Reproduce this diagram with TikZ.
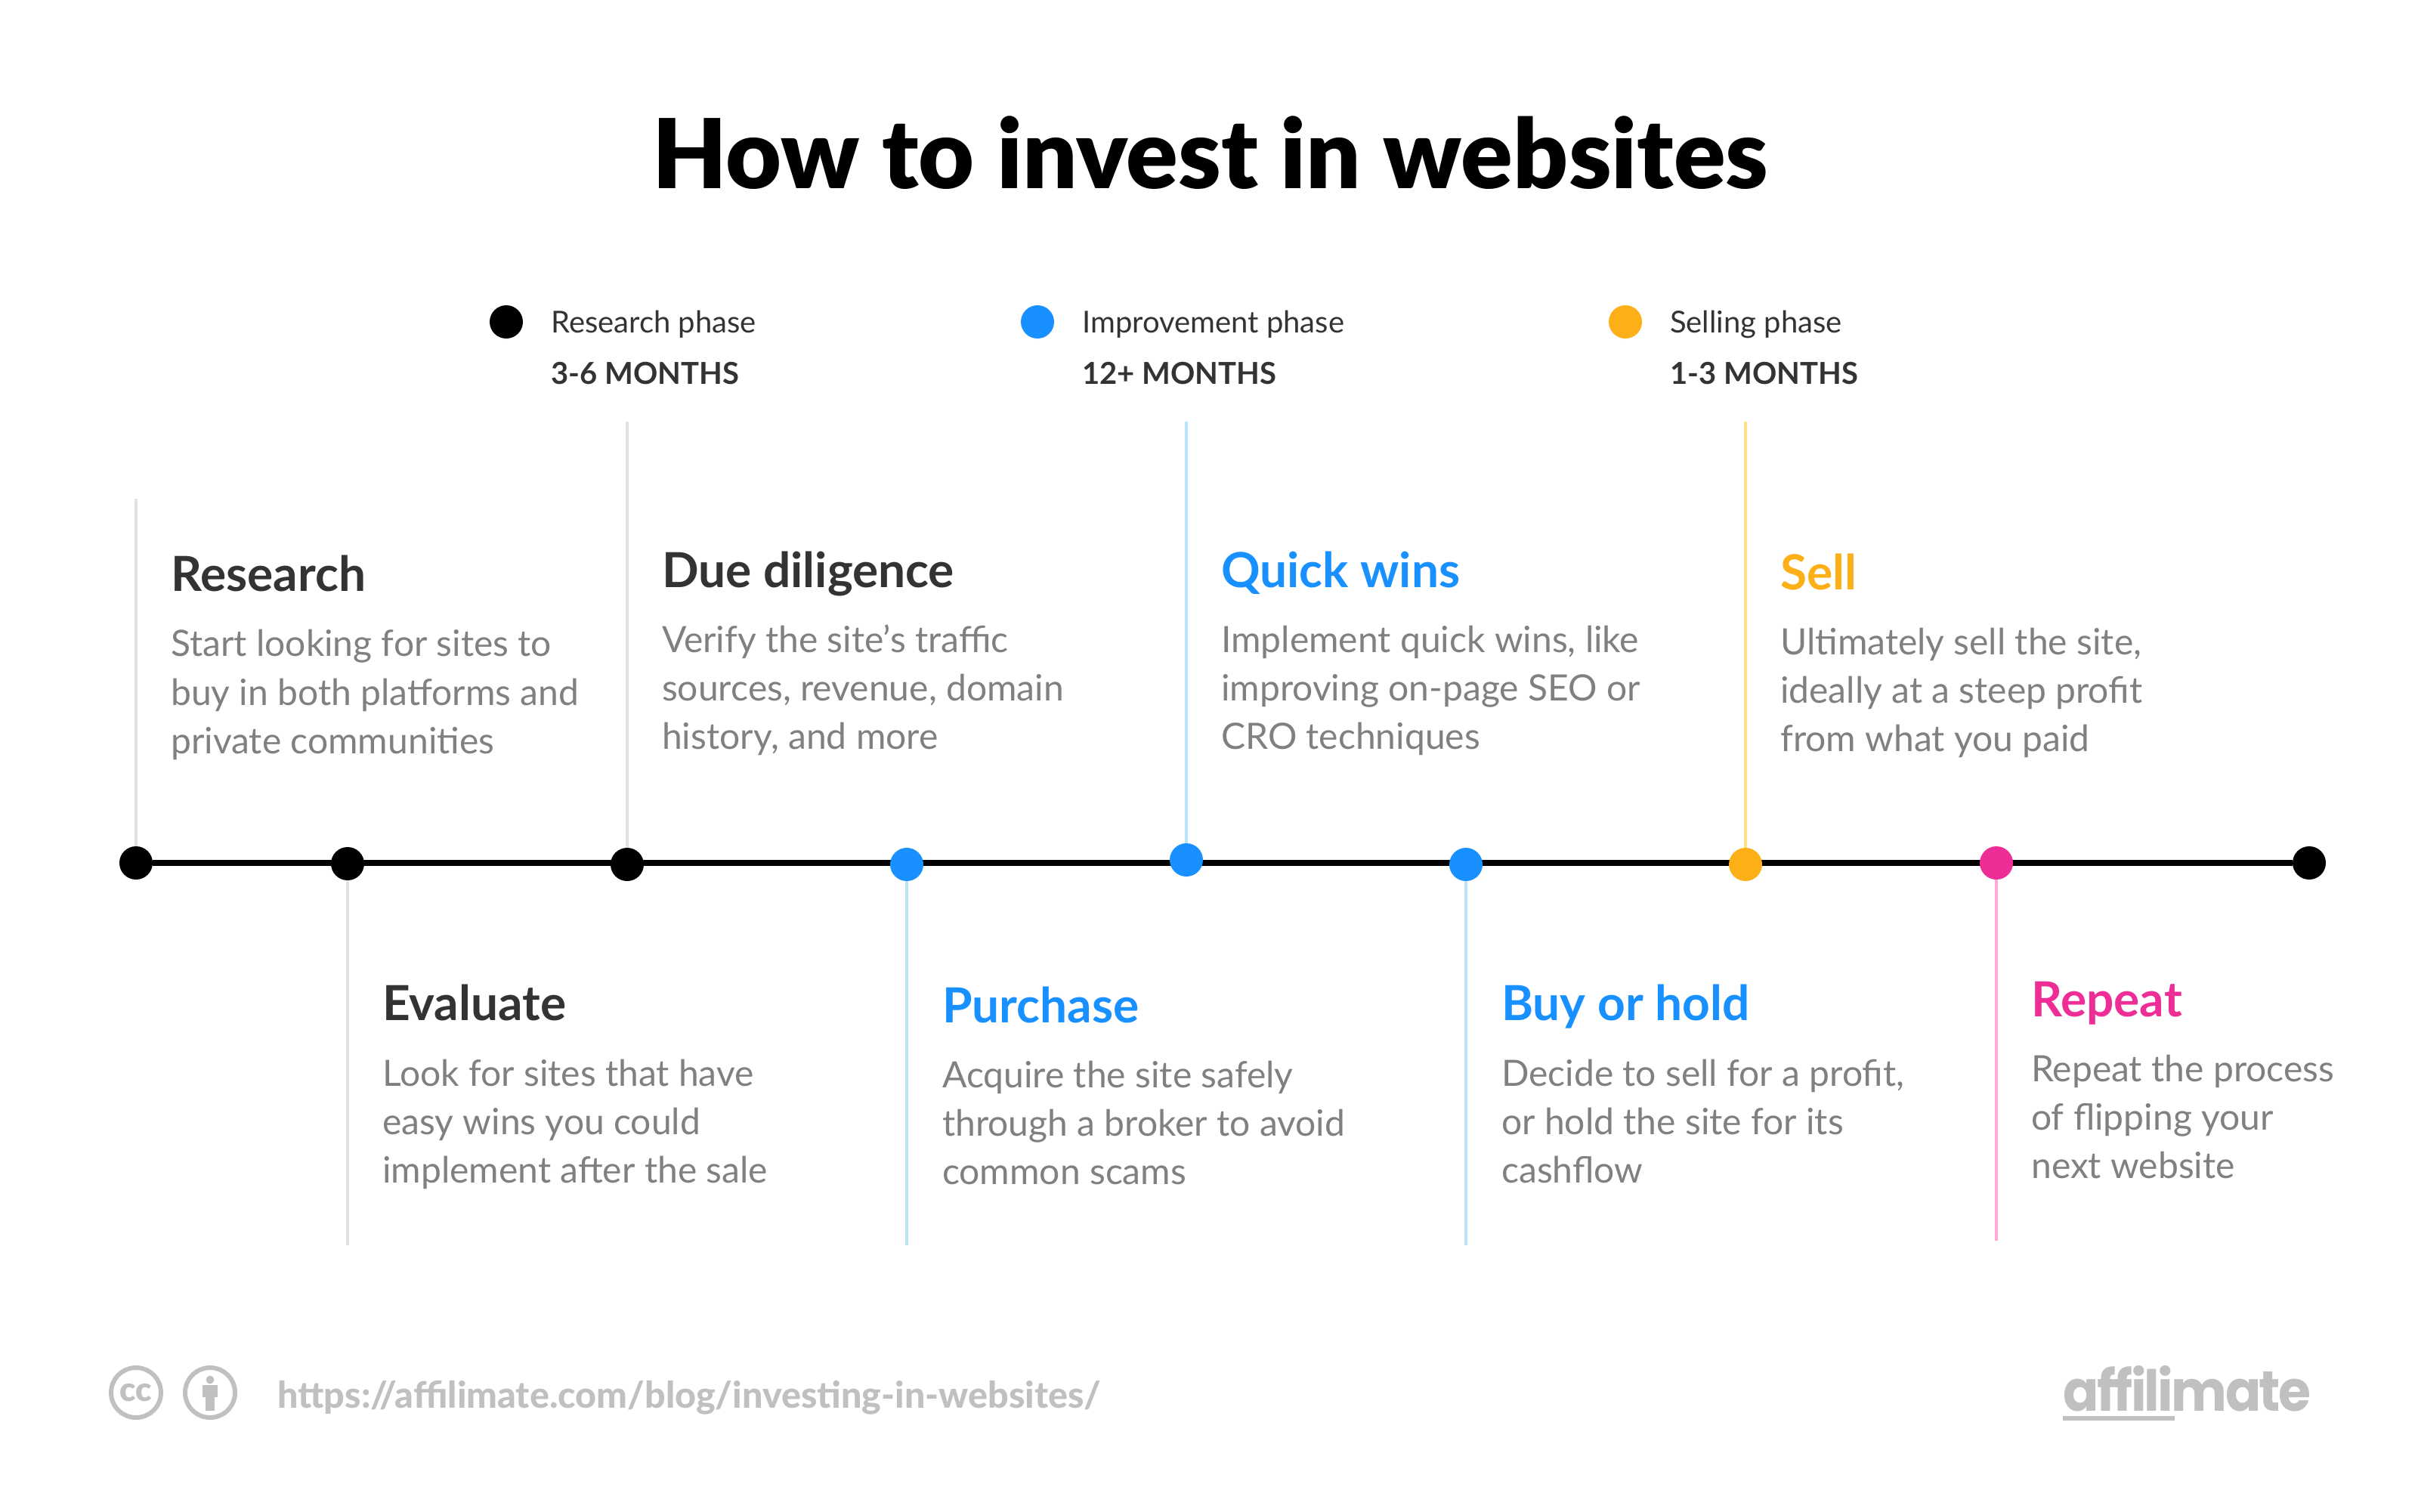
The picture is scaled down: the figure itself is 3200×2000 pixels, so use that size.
\documentclass[tikz,border=0pt]{standalone}
\usepackage{fontspec}
\setmainfont{Lato}
\newfontfamily\blackfont{Lato Black}
\newfontfamily\heavyfont{Lato Heavy}
\newfontfamily\logofont{Poppins}[FakeStretch=0.93, LetterSpace=-3.5]
\usetikzlibrary{backgrounds}

\definecolor{inkblack}{HTML}{333333}
\definecolor{bodygrey}{HTML}{808080}
\definecolor{footgrey}{HTML}{C0C0C0}
\definecolor{stemgrey}{HTML}{E2E2E2}
\definecolor{phaseblue}{HTML}{1890FF}
\definecolor{stemblue}{HTML}{BBE4FB}
\definecolor{phaseorange}{HTML}{FCAF17}
\definecolor{stemorange}{HTML}{FFE08A}
\definecolor{phasepink}{HTML}{EE2E96}
\definecolor{stempink}{HTML}{FDA9D4}

\tikzset{
  dot/.style={circle, minimum size=44pt, inner sep=0pt, fill=#1},
  stem/.style={line width=4pt, #1},
  txt/.style={anchor=base west, inner sep=0pt},
  heading/.style={txt, font=\bfseries\fontsize{64}{76}\selectfont, text=#1},
  bodytext/.style={txt, font=\fontsize{48}{58}\selectfont, text=bodygrey},
  legendname/.style={txt, font=\fontsize{40}{48}\selectfont, text=inkblack},
  legendtime/.style={txt, font=\bfseries\fontsize{40}{48}\selectfont, text=inkblack},
  ring/.style={circle, draw=footgrey, line width=6pt, minimum size=66pt, inner sep=0pt}
}

\begin{document}
\begin{tikzpicture}[x=1pt, y=-1pt]
    \useasboundingbox (0, 0) rectangle (3200, 2000);
    \node [anchor=base, inner sep=0pt, font=\blackfont\fontsize{127.5}{150}\selectfont] (title) at (1602, 249) {How to invest in websites};
    % legend
    \node [dot=black]       (researchkey) at (670, 426) {};
    \node [legendname]      (researchname) at (729, 440) {Research phase};
    \node [legendtime]      (researchtime) at (729, 508) {3-6 MONTHS};
    \node [dot=phaseblue]   (improvekey) at (1373, 426) {};
    \node [legendname]      (improvename) at (1432, 440) {Improvement phase};
    \node [legendtime]      (improvetime) at (1432, 508) {12+ MONTHS};
    \node [dot=phaseorange] (sellkey) at (2151, 426) {};
    \node [legendname]      (sellname) at (2210, 440) {Selling phase};
    \node [legendtime]      (selltime) at (2210, 508) {1-3 MONTHS};
    % timeline
    \node [dot=black]       (researchdot) at (180, 1142) {};
    \node [dot=black]       (evaluatedot) at (460, 1143) {};
    \node [dot=black]       (diligencedot) at (830, 1144) {};
    \node [dot=phaseblue]   (purchasedot) at (1200, 1144) {};
    \node [dot=phaseblue]   (quickdot) at (1570, 1138) {};
    \node [dot=phaseblue]   (holddot) at (1940, 1144) {};
    \node [dot=phaseorange] (selldot) at (2310, 1144) {};
    \node [dot=phasepink]   (repeatdot) at (2642, 1142) {};
    \node [dot=black]       (enddot) at (3056, 1142) {};
    \begin{scope}[on background layer]
      \draw [line width=8pt] (researchdot) -- (enddot);
    \end{scope}
    % stems
    \coordinate (researchend) at (180, 660);
    \coordinate (evaluateend) at (460, 1648);
    \coordinate (diligenceend) at (830, 558);
    \coordinate (purchaseend) at (1200, 1648);
    \coordinate (quickend) at (1570, 558);
    \coordinate (holdend) at (1940, 1648);
    \coordinate (sellend) at (2310, 558);
    \coordinate (repeatend) at (2642, 1642);
    \draw [stem=stemgrey]   (researchdot) -- (researchend);
    \draw [stem=stemgrey]   (evaluatedot) -- (evaluateend);
    \draw [stem=stemgrey]   (diligencedot) -- (diligenceend);
    \draw [stem=stemblue]   (purchasedot) -- (purchaseend);
    \draw [stem=stemblue]   (quickdot) -- (quickend);
    \draw [stem=stemblue]   (holddot) -- (holdend);
    \draw [stem=stemorange] (selldot) -- (sellend);
    \draw [stem=stempink]   (repeatdot) -- (repeatend);
    % Research
    \node [heading=inkblack] (researchhead) at (226, 782) {Research};
    \node [bodytext] (research1) at (226, 868) {Start looking for sites to};
    \node [bodytext] (research2) at (226, 933) {buy in both platforms and};
    \node [bodytext] (research3) at (226, 997) {private communities};
    % Evaluate
    \node [heading=inkblack] (evaluatehead) at (506, 1350) {Evaluate};
    \node [bodytext] (evaluate1) at (506, 1437) {Look for sites that have};
    \node [bodytext] (evaluate2) at (506, 1501) {easy wins you could};
    \node [bodytext] (evaluate3) at (506, 1565) {implement after the sale};
    % Due diligence
    \node [heading=inkblack] (diligencehead) at (876, 777) {Due diligence};
    \node [bodytext] (diligence1) at (876, 863) {Verify the site’s traffic};
    \node [bodytext] (diligence2) at (876, 927) {sources, revenue, domain};
    \node [bodytext] (diligence3) at (876, 991) {history, and more};
    % Purchase
    \node [heading=phaseblue] (purchasehead) at (1247, 1353) {Purchase};
    \node [bodytext] (purchase1) at (1247, 1439) {Acquire the site safely};
    \node [bodytext] (purchase2) at (1247, 1503) {through a broker to avoid};
    \node [bodytext] (purchase3) at (1247, 1567) {common scams};
    % Quick wins
    \node [heading=phaseblue] (quickhead) at (1616, 777) {Quick wins};
    \node [bodytext] (quick1) at (1616, 863) {Implement quick wins, like};
    \node [bodytext] (quick2) at (1616, 927) {improving on-page SEO or};
    \node [bodytext] (quick3) at (1616, 991) {CRO techniques};
    % Buy or hold
    \node [heading=phaseblue] (holdhead) at (1987, 1350) {Buy or hold};
    \node [bodytext] (hold1) at (1987, 1437) {Decide to sell for a profit,};
    \node [bodytext] (hold2) at (1987, 1501) {or hold the site for its};
    \node [bodytext] (hold3) at (1987, 1565) {cashflow};
    % Sell
    \node [heading=phaseorange] (sellhead) at (2356, 780) {Sell};
    \node [bodytext] (sell1) at (2356, 866) {Ultimately sell the site,};
    \node [bodytext] (sell2) at (2356, 930) {ideally at a steep profit};
    \node [bodytext] (sell3) at (2356, 994) {from what you paid};
    % Repeat
    \node [heading=phasepink] (repeathead) at (2688, 1345) {Repeat};
    \node [bodytext] (repeat1) at (2688, 1431) {Repeat the process};
    \node [bodytext] (repeat2) at (2688, 1495) {of flipping your};
    \node [bodytext] (repeat3) at (2688, 1559) {next website};
    % footer
    \node [ring, text=footgrey, font=\blackfont\fontsize{44}{44}\selectfont] (ccicon) at (180, 1843) {cc};
    \node [ring] (byicon) at (278, 1843) {};
    \fill [footgrey] (278, 1826) circle (5.5);
    \fill [footgrey] (268, 1833) rectangle (288, 1849);
    \fill [footgrey] (272, 1849) rectangle (284, 1867);
    \node [txt, text=footgrey, font=\heavyfont\fontsize{48.45}{58}\selectfont] (url) at (367, 1863) {https://affilimate.com/blog/investing-in-websites/};
    \node [txt, text=footgrey, font=\logofont\bfseries\fontsize{75}{90}\selectfont] (logo) at (2730, 1867) {affilimate};
    \fill [footgrey] (2730, 1874) rectangle (2878, 1880);
  \end{tikzpicture}
\end{document}
